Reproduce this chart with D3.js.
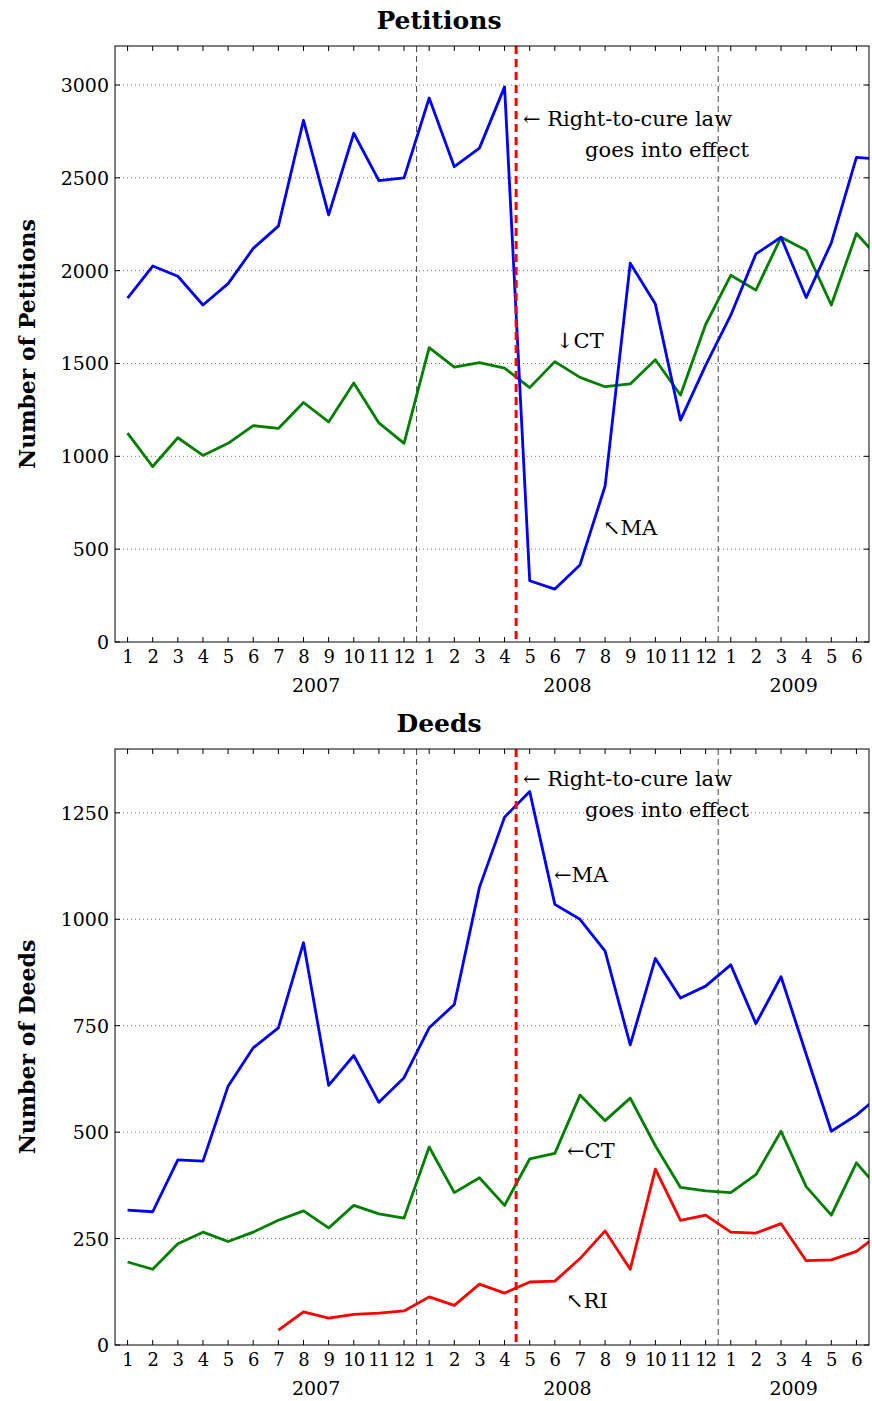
<!DOCTYPE html>
<html><head><meta charset="utf-8">
<script src="https://cdn.jsdelivr.net/npm/d3@7"></script>
<style>
body{margin:0;background:#fff;}
text{font-family:"DejaVu Serif","Liberation Serif",serif;fill:#000;}
</style></head>
<body><svg id="chart" width="872" height="1401"></svg>
<script>
// months 1..31 (Jan 2007 .. Jul 2009; the last one is clipped)
var months = d3.range(1, 32);
var monthLabels = [1,2,3,4,5,6,7,8,9,10,11,12,1,2,3,4,5,6,7,8,9,10,11,12,1,2,3,4,5,6];
var years = [{m: 8.5, t: "2007"}, {m: 18.5, t: "2008"}, {m: 27.5, t: "2009"}];

var petMA = [1852,2025,1970,1815,1930,2120,2240,2810,2300,2740,2485,2500,2930,2560,2660,2990,330,285,415,840,2040,1820,1195,1490,1760,2090,2180,1855,2150,2610,2600];
var petCT = [1125,945,1100,1005,1070,1165,1150,1290,1185,1395,1180,1070,1585,1480,1505,1475,1370,1510,1425,1375,1390,1520,1330,1710,1975,1895,2180,2110,1815,2200,2050];

var deedMA = [317,313,435,432,608,698,745,945,610,680,570,628,745,800,1075,1240,1300,1035,1000,925,705,908,815,843,893,755,865,683,502,540,590];
var deedCT = [195,178,238,265,243,265,293,315,275,328,308,298,465,358,393,328,437,450,587,527,580,468,370,362,358,400,502,372,305,428,360];
var deedRI = [null,null,null,null,null,null,35,78,63,72,75,80,113,93,143,122,148,150,203,268,178,413,293,305,265,263,285,198,200,220,265];

var svg = d3.select("#chart");
var left = 115, right = 869;
var x = d3.scaleLinear().domain([0.5, 30.5]).range([left, right]);

function panel(opt){
    var y = d3.scaleLinear().domain([0, opt.ymax]).range([opt.bottom, opt.top]);
    var g = svg.append("g");
    var cid = "clip" + opt.id;
    svg.append("clipPath").attr("id", cid).append("rect")
        .attr("x", left).attr("y", opt.top).attr("width", right - left).attr("height", opt.bottom - opt.top);

    // grid
    g.selectAll(".hg").data(opt.yticks.slice(1)).enter().append("line")
        .attr("x1", left).attr("x2", right).attr("y1", y).attr("y2", y)
        .attr("stroke", "#555").attr("stroke-width", 0.8).attr("stroke-dasharray", "1,3");
    [12.5, 24.5].forEach(function(m){
        g.append("line").attr("x1", x(m)).attr("x2", x(m)).attr("y1", opt.top).attr("y2", opt.bottom)
            .attr("stroke", "#444").attr("stroke-width", 1).attr("stroke-dasharray", "6,4");
    });

    // ticks
    opt.yticks.forEach(function(v){
        g.append("line").attr("x1", left).attr("x2", left + 5).attr("y1", y(v)).attr("y2", y(v)).attr("stroke", "#000");
        g.append("line").attr("x1", right).attr("x2", right - 5).attr("y1", y(v)).attr("y2", y(v)).attr("stroke", "#000");
        g.append("text").attr("x", left - 6).attr("y", y(v) + 7).attr("text-anchor", "end")
            .style("font-size", "19px").text(v);
    });
    monthLabels.forEach(function(l, i){
        var m = i + 1;
        g.append("line").attr("x1", x(m)).attr("x2", x(m)).attr("y1", opt.bottom).attr("y2", opt.bottom - 5).attr("stroke", "#000");
        g.append("line").attr("x1", x(m)).attr("x2", x(m)).attr("y1", opt.top).attr("y2", opt.top + 5).attr("stroke", "#000");
        g.append("text").attr("x", x(m)).attr("y", opt.bottom + 21).attr("text-anchor", "middle")
            .style("font-size", "18px").style("letter-spacing", "-1px").text(l);
    });
    years.forEach(function(yr){
        g.append("text").attr("x", x(yr.m)).attr("y", opt.bottom + 50).attr("text-anchor", "middle")
            .style("font-size", "19px").text(yr.t);
    });

    // series
    var line = d3.line().defined(function(d){ return d != null; })
        .x(function(d, i){ return x(months[i]); }).y(function(d){ return y(d); });
    opt.series.forEach(function(s){
        g.append("path").datum(s.values).attr("d", line).attr("fill", "none")
            .attr("stroke", s.color).attr("stroke-width", 2.8).attr("stroke-linejoin", "round")
            .attr("clip-path", "url(#" + cid + ")");
    });

    // law line
    g.append("line").attr("x1", x(16.46)).attr("x2", x(16.46)).attr("y1", opt.top).attr("y2", opt.bottom)
        .attr("stroke", "#f00").attr("stroke-width", 3).attr("stroke-dasharray", "8,5");

    g.append("rect").attr("x", left).attr("y", opt.top).attr("width", right - left)
        .attr("height", opt.bottom - opt.top).attr("fill", "none").attr("stroke", "#000");

    g.append("text").attr("x", 439).attr("y", opt.top - 17).attr("text-anchor", "middle")
        .style("font-size", "25px").style("font-weight", "bold").text(opt.title);
    g.append("text").attr("transform", "translate(35," + ((opt.top + opt.bottom) / 2) + ") rotate(-90)")
        .attr("text-anchor", "middle").style("font-size", "22px").style("font-weight", "bold").text(opt.ylabel);

    opt.notes.forEach(function(n){
        g.append("text").attr("x", n.x).attr("y", n.y).attr("text-anchor", n.a || "start")
            .style("font-size", "21px").text(n.t);
    });
}

panel({
    id: 1, top: 46, bottom: 642, ymax: 3210, title: "Petitions", ylabel: "Number of Petitions",
    yticks: [0,500,1000,1500,2000,2500,3000],
    series: [{values: petCT, color: "#007f00"}, {values: petMA, color: "#0000ff"}],
    notes: [
        {x: 523, y: 126, t: "\u2190 Right-to-cure law"},
        {x: 749, y: 157, t: "goes into effect", a: "end"},
        {x: 556, y: 348, t: "\u2193CT"},
        {x: 603, y: 535, t: "\u2196MA"}
    ]
});

panel({
    id: 2, top: 749, bottom: 1345, ymax: 1400, title: "Deeds", ylabel: "Number of Deeds",
    yticks: [0,250,500,750,1000,1250],
    series: [{values: deedRI, color: "#ff0000"}, {values: deedCT, color: "#007f00"}, {values: deedMA, color: "#0000ff"}],
    notes: [
        {x: 523, y: 786, t: "\u2190 Right-to-cure law"},
        {x: 749, y: 817, t: "goes into effect", a: "end"},
        {x: 554, y: 882, t: "\u2190MA"},
        {x: 567, y: 1158, t: "\u2190CT"},
        {x: 566, y: 1308, t: "\u2196RI"}
    ]
});
</script></body></html>
